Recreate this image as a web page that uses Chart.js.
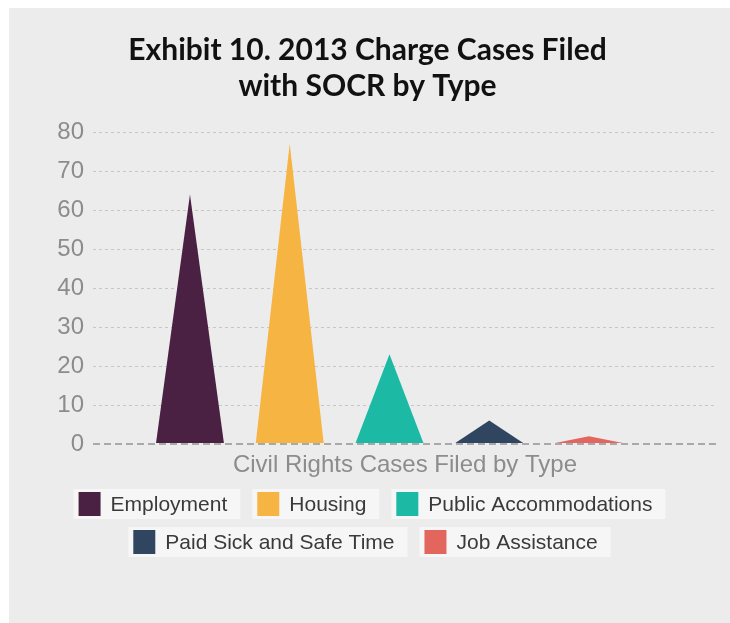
<!DOCTYPE html>
<html>
<head>
<meta charset="utf-8">
<script src="https://cdn.jsdelivr.net/npm/chart.js@4"></script>
<style>
  body { margin: 0; background: #fff; }
  #wrap { position: absolute; left: 9px; top: 8px; width: 721px; height: 615px; background: #ececec; }
</style>
</head>
<body>
<div id="wrap"><canvas id="myChart"></canvas></div>
<script>
const categories = ['Employment', 'Housing', 'Public Accommodations', 'Paid Sick and Safe Time', 'Job Assistance']
const cases = [64, 77, 23, 6, 2]
const colors = ['#4a2142', '#f6b443', '#1cbaa5', '#2f4560', '#e2665d']
const yTicks = [0, 10, 20, 30, 40, 50, 60, 70, 80]

// bars are drawn as triangles from the bar elements the library lays out
const trianglePlugin = {
    id: 'triangles',
    beforeDatasetDraw: (chart, args) => {
        const ctx = chart.ctx
        args.meta.data.forEach((bar, i) => {
            const {x, y, base, width} = bar.getProps(['x', 'y', 'base', 'width'], true)
            ctx.save()
            ctx.fillStyle = colors[i]
            ctx.beginPath()
            ctx.moveTo(x - width / 2, base)
            ctx.lineTo(x, y)
            ctx.lineTo(x + width / 2, base)
            ctx.closePath()
            ctx.fill()
            ctx.restore()
        })
        return false
    }
}

// legend with a light box behind each item, wrapped in centered rows
const legendPlugin = {
    id: 'boxLegend',
    afterDraw: (chart) => {
        const ctx = chart.ctx
        const xAxis = chart.scales.x
        ctx.save()
        ctx.font = '21px "Liberation Sans", Arial, sans-serif'
        const items = categories.map((c, i) => ({text: c, color: colors[i], w: 5 + 22 + 10 + ctx.measureText(c).width + 13}))
        const maxW = chart.width - 90
        const rows = [[]]
        let rowW = 0
        items.forEach(it => {
            if (rows[rows.length - 1].length && rowW + 12 + it.w > maxW) { rows.push([]); rowW = 0 }
            rowW += (rows[rows.length - 1].length ? 12 : 0) + it.w
            rows[rows.length - 1].push(it)
        })
        rows.forEach((row, r) => {
            const total = row.reduce((s, it) => s + it.w, 0) + 12 * (row.length - 1)
            let x = (chart.width - total) / 2
            const cy = xAxis.bottom + 24 + r * 38
            row.forEach(it => {
                ctx.fillStyle = '#f6f6f6'
                ctx.fillRect(x, cy - 15, it.w, 30)
                ctx.fillStyle = it.color
                ctx.fillRect(x + 5, cy - 12, 22, 24)
                ctx.fillStyle = '#3a3a3a'
                ctx.textBaseline = 'middle'
                ctx.textAlign = 'left'
                ctx.fillText(it.text, x + 37, cy + 1)
                x += it.w + 12
            })
        })
        ctx.restore()
    }
}

const myChart = new Chart(document.getElementById('myChart'), {
    type: 'bar',
    data: {
        labels: categories,
        datasets: [{
            label: 'Civil Rights Cases Filed by Type',
            data: cases.map((v, i) => ({x: i, y: v})),
            backgroundColor: colors,
            barPercentage: 0.7,
            categoryPercentage: 1.0
        }]
    },
    options: {
        responsive: true,
        maintainAspectRatio: false,
        animation: false,
        layout: {padding: {left: 9, right: 13, top: 0, bottom: 143}},
        plugins: {
            legend: {display: false},
            tooltip: {enabled: false},
            title: {
                display: true,
                text: ['Exhibit 10. 2013 Charge Cases Filed', 'with SOCR by Type'],
                color: '#111',
                font: {family: 'Lato', weight: 'bold', size: 30, lineHeight: 36 / 30},
                padding: {top: 24, bottom: 28}
            }
        },
        scales: {
            x: {
                type: 'linear',
                offset: false,
                min: -0.972,
                max: 5.283,
                ticks: {display: false},
                grid: {display: false},
                border: {display: false},
                title: {
                    display: true,
                    text: 'Civil Rights Cases Filed by Type',
                    color: '#8c8c8c',
                    font: {family: 'Liberation Sans', size: 24},
                    padding: {top: 8, bottom: 0}
                },
                afterFit: (axis) => { axis.height = 36 }
            },
            y: {
                min: 0,
                max: 80,
                afterBuildTicks: (axis) => { axis.ticks = yTicks.map(v => ({value: v})) },
                ticks: {color: '#8c8c8c', font: {family: 'Liberation Sans', size: 24}, padding: 9},
                grid: {
                    drawTicks: false,
                    color: (c) => c.tick && c.tick.value === 0 ? '#a9a9a9' : '#c6c6c6',
                    lineWidth: (c) => c.tick && c.tick.value === 0 ? 2 : 1
                },
                border: {
                    display: false,
                    dash: (c) => c.tick && c.tick.value === 0 ? [7, 4] : [3, 3]
                },
                afterFit: (axis) => { axis.width = 75 }
            }
        }
    },
    plugins: [trianglePlugin, legendPlugin]
})
</script>
</body>
</html>
